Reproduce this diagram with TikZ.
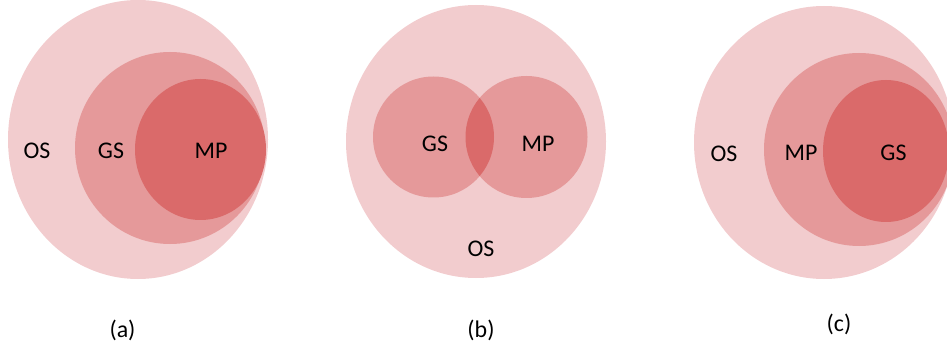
\documentclass[tikz,border=0pt]{standalone}
\usepackage{fontspec}
\setmainfont{Carlito}
\definecolor{osfill}{RGB}{242,204,206}
\definecolor{gsfill}{RGB}{229,153,154}
\definecolor{mpfill}{RGB}{218,106,106}
\begin{document}
\begin{tikzpicture}[x=0.025cm, y=-0.025cm,
    lbl/.style={font=\fontsize{17}{20}\selectfont, inner sep=0pt}]
    \useasboundingbox (0,0) rectangle (947,347);
    \clip (0,0) rectangle (947,347);
    % (a) MP inside GS inside OS
    \fill [osfill] (138,139.5) ellipse [x radius=130, y radius=139.5];
    \fill [gsfill] (170,148) ellipse [x radius=95, y radius=96];
    \fill [mpfill] (200.5,149.5) ellipse [x radius=65.5, y radius=70.5];
    \node (nOsA) [lbl] at (37,151) {OS};
    \node (nGsA) [lbl] at (111,151) {GS};
    \node (nMpA) [lbl] at (211,151) {MP};
    \node (nCapA) [lbl] at (122.5,330) {(a)};
    % (b) GS and MP overlap inside OS
    \fill [osfill] (476,141.5) ellipse [x radius=130, y radius=136.5];
    \fill [gsfill] (433.5,137) circle [radius=60.5];
    \fill [gsfill] (526.5,137) circle [radius=61];
    \begin{scope}
        \clip (433.5,137) circle [radius=60.5];
        \fill [mpfill] (526.5,137) circle [radius=61];
    \end{scope}
    \node (nGsB) [lbl] at (435,144) {GS};
    \node (nMpB) [lbl] at (538,144) {MP};
    \node (nOsB) [lbl] at (481,249) {OS};
    \node (nCapB) [lbl] at (481,330) {(b)};
    % (c) GS inside MP inside OS
    \fill [osfill] (824,142.5) ellipse [x radius=130, y radius=136.5];
    \fill [gsfill] (859,149.5) ellipse [x radius=95, y radius=96.5];
    \fill [mpfill] (886,151) ellipse [x radius=63, y radius=71];
    \node (nOsC) [lbl] at (724,154) {OS};
    \node (nMpC) [lbl] at (801,153) {MP};
    \node (nGsC) [lbl] at (893.5,153) {GS};
    \node (nCapC) [lbl] at (839,324) {(c)};
\end{tikzpicture}
\end{document}
